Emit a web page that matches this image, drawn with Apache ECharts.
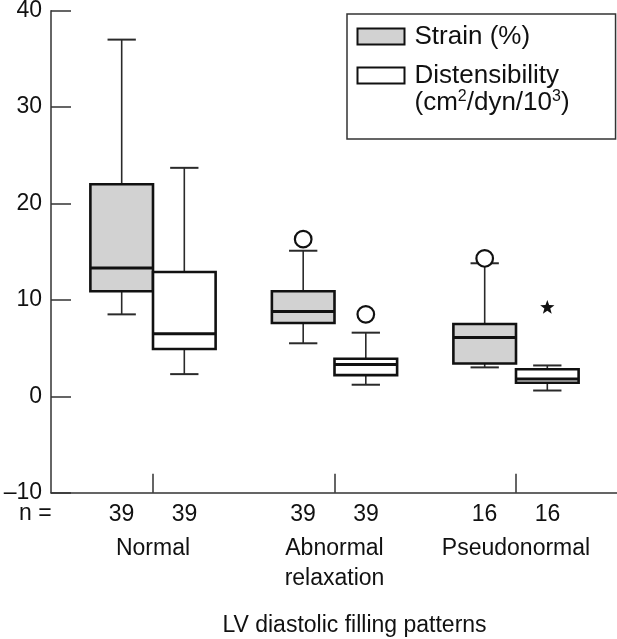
<!DOCTYPE html>
<html>
<head>
<meta charset="utf-8">
<script src="https://cdn.jsdelivr.net/npm/echarts@6/dist/echarts.min.js"></script>
<style>
html,body{margin:0;padding:0;background:#fff;}
#chart{width:617px;height:639px;}
</style>
</head>
<body>
<div id="chart"></div>
<script>
// ---- data ----
const categories = ['Normal', 'Abnormal\nrelaxation', 'Pseudonormal'];
const nStrain = [39, 39, 16];
const nDist = [39, 39, 16];
// [category index, min, Q1, median, Q3, max]
const strainBoxes = [
  [0, 8.5, 10.9, 13.3, 22.0, 37.0],
  [1, 5.5, 7.6, 8.8, 10.9, 15.1],
  [2, 3.0, 3.4, 6.1, 7.5, 13.8]
];
const distBoxes = [
  [0, 2.3, 4.9, 6.5, 12.9, 23.7],
  [1, 1.2, 2.2, 3.3, 3.9, 6.6],
  [2, 0.6, 1.4, 1.8, 2.8, 3.2]
];
const strainOutliers = [[1, 16.3], [2, 14.3]];
const distOutliers = [[1, 8.5]];
const distExtremes = [[2, 9.2]];
const yMin = -10, yMax = 40, yStep = 10;

// ---- styling ----
const FONT = 'Liberation Sans';
const INK = '#111';
const AXIS = '#333';
const GREY = '#d2d2d2';
const BOX_FRAC = 0.345;  // box width as a fraction of the category band
const CAP_FRAC = 0.156;  // whisker cap width as a fraction of the band

function boxRenderer(side, fill) {
  return function (params, api) {
    const i = api.value(0);
    const band = api.size([1, 0])[0];
    const cx = api.coord([i, 0])[0];
    const bw = band * BOX_FRAC;
    const x0 = side < 0 ? cx - bw : cx;
    const mid = x0 + bw / 2;
    const cap = band * CAP_FRAC / 2;
    const y = k => api.coord([i, api.value(k)])[1];
    const pMin = y(1), pQ1 = y(2), pMed = y(3), pQ3 = y(4), pMax = y(5);
    const ws = {stroke: '#2a2a2a', lineWidth: 1.6};
    const cs = {stroke: '#2a2a2a', lineWidth: 2};
    return {
      type: 'group',
      children: [
        {type: 'line', shape: {x1: mid, y1: pQ3, x2: mid, y2: pMax}, style: ws},
        {type: 'line', shape: {x1: mid - cap, y1: pMax, x2: mid + cap, y2: pMax}, style: cs},
        {type: 'line', shape: {x1: mid, y1: pQ1, x2: mid, y2: pMin}, style: ws},
        {type: 'line', shape: {x1: mid - cap, y1: pMin, x2: mid + cap, y2: pMin}, style: cs},
        {type: 'rect', shape: {x: x0, y: pQ3, width: bw, height: pQ1 - pQ3},
          style: {fill: fill, stroke: INK, lineWidth: 2.6}},
        {type: 'line', shape: {x1: x0, y1: pMed, x2: x0 + bw, y2: pMed},
          style: {stroke: INK, lineWidth: 3}}
      ]
    };
  };
}

function pointRenderer(side, kind) {
  return function (params, api) {
    const i = api.value(0);
    const band = api.size([1, 0])[0];
    const p = api.coord([i, api.value(1)]);
    const x = p[0] + side * band * BOX_FRAC / 2;
    if (kind === 'circle') {
      return {type: 'circle', shape: {cx: x, cy: p[1], r: 8.3},
        style: {fill: '#fff', stroke: INK, lineWidth: 2.2}};
    }
    const pts = [];
    for (let k = 0; k < 10; k++) {
      const r = k % 2 === 0 ? 7.5 : 3.1;
      const a = -Math.PI / 2 + k * Math.PI / 5;
      pts.push([x + r * Math.cos(a), p[1] + r * Math.sin(a)]);
    }
    return {type: 'polygon', shape: {points: pts}, style: {fill: INK}};
  };
}

const chart = echarts.init(document.getElementById('chart'), null, {renderer: 'canvas'});

const lineStyle = {color: AXIS, width: 1.5};

const option = {
  animation: false,
  backgroundColor: '#fff',
  textStyle: {fontFamily: FONT},
  title: {
    text: 'n =', left: 19, top: 502, padding: 0,
    textStyle: {fontFamily: FONT, fontSize: 23, lineHeight: 23, fontWeight: 'normal', color: INK}
  },
  legend: {
    orient: 'vertical', left: 347, top: 14, selectedMode: false,
    padding: [9, 46, 23, 9.5],
    itemWidth: 47, itemHeight: 16, itemGap: -15,
    borderColor: '#333', borderWidth: 1.5,
    icon: 'rect',
    textStyle: {
      fontFamily: FONT, fontSize: 26, lineHeight: 27, color: INK,
      rich: {sup: {fontFamily: FONT, fontSize: 16, lineHeight: 15, verticalAlign: 'top', color: INK}}
    },
    formatter: function (name) {
      return name === 'Distensibility' ? 'Distensibility\n(cm{sup|2}/dyn/10{sup|3})' : name;
    },
    data: [
      {name: 'Strain (%)', itemStyle: {color: GREY, borderColor: INK, borderWidth: 2},
        textStyle: {padding: [0, 0, 0, 5]}},
      {name: 'Distensibility', itemStyle: {color: '#fff', borderColor: INK, borderWidth: 2},
        textStyle: {padding: [27, 0, 0, 5]}}
    ]
  },
  grid: [
    {left: 62.25, right: 10.25, top: 10.7, bottom: 146.3, outerBoundsMode: 'none', containLabel: false},
    {left: 51, right: 0, top: 10.7, bottom: 146.3, outerBoundsMode: 'none', containLabel: false}
  ],
  xAxis: [
    {
      type: 'category', gridIndex: 0, data: categories, boundaryGap: true,
      axisLine: {show: false, onZero: false},
      axisTick: {show: true, alignWithLabel: true, inside: true, length: 19, lineStyle: lineStyle},
      axisLabel: {
        interval: 0, margin: 6, color: INK, fontFamily: FONT, fontSize: 23,
        formatter: function (value, index) {
          const lines = value.split('\n');
          let s = '{n|' + nStrain[index] + '}{n|' + nDist[index] + '}\n{c1|' + lines[0] + '}';
          for (let k = 1; k < lines.length; k++) s += '\n{c2|' + lines[k] + '}';
          return s;
        },
        rich: {
          n: {fontFamily: FONT, fontSize: 23, lineHeight: 32, width: 63, align: 'center', color: INK},
          c1: {fontFamily: FONT, fontSize: 23, lineHeight: 36, color: INK},
          c2: {fontFamily: FONT, fontSize: 23, lineHeight: 24, color: INK}
        }
      },
      splitLine: {show: false},
      name: 'LV diastolic filling patterns', nameLocation: 'middle', nameGap: 121,
      nameTextStyle: {fontFamily: FONT, fontSize: 23, color: INK, padding: [0, 0, 0, 40]}
    },
    {
      type: 'value', gridIndex: 1,
      axisLine: {show: true, onZero: false, lineStyle: lineStyle},
      axisTick: {show: false}, axisLabel: {show: false}, splitLine: {show: false}
    }
  ],
  yAxis: [
    {
      type: 'value', gridIndex: 0, min: yMin, max: yMax, interval: yStep, offset: 11.25,
      axisLine: {show: true, lineStyle: lineStyle},
      axisTick: {show: true, inside: true, length: 20, lineStyle: lineStyle},
      axisLabel: {
        margin: 9, fontFamily: FONT, fontSize: 23, color: INK,
        formatter: v => String(v).replace('-', '\u2013')
      },
      splitLine: {show: false}
    },
    {type: 'value', gridIndex: 1, show: false}
  ],
  series: [
    {
      name: 'Strain (%)', type: 'custom', xAxisIndex: 0, yAxisIndex: 0,
      itemStyle: {color: GREY, borderColor: INK},
      encode: {x: 0, y: [1, 2, 3, 4, 5]},
      renderItem: boxRenderer(-1, GREY), data: strainBoxes
    },
    {
      name: 'Distensibility', type: 'custom', xAxisIndex: 0, yAxisIndex: 0,
      itemStyle: {color: '#fff', borderColor: INK},
      encode: {x: 0, y: [1, 2, 3, 4, 5]},
      renderItem: boxRenderer(1, '#fff'), data: distBoxes
    },
    {
      name: 'Strain outliers', type: 'custom', xAxisIndex: 0, yAxisIndex: 0,
      encode: {x: 0, y: 1}, renderItem: pointRenderer(-1, 'circle'), data: strainOutliers
    },
    {
      name: 'Distensibility outliers', type: 'custom', xAxisIndex: 0, yAxisIndex: 0,
      encode: {x: 0, y: 1}, renderItem: pointRenderer(1, 'circle'), data: distOutliers
    },
    {
      name: 'Distensibility extremes', type: 'custom', xAxisIndex: 0, yAxisIndex: 0,
      encode: {x: 0, y: 1}, renderItem: pointRenderer(1, 'star'), data: distExtremes
    }
  ]
};
chart.setOption(option);
</script>
</body>
</html>
